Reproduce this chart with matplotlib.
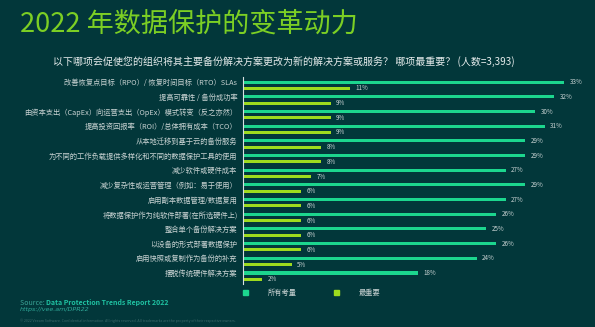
import matplotlib
matplotlib.use("Agg")
import matplotlib.pyplot as plt
import numpy as np
from matplotlib.lines import Line2D

plt.rcParams['font.family'] = ['Noto Sans CJK SC', 'DejaVu Sans']

categories = [
    "改善恢复点目标（RPO）/ 恢复时间目标（RTO）SLAs",
    "提高可靠性 / 备份成功率",
    "由资本支出（CapEx）向运营支出（OpEx）模式转变（反之亦然）",
    "提高投资回报率（ROI）/总体拥有成本（TCO）",
    "从本地迁移到基于云的备份服务",
    "为不同的工作负载提供多样化和不同的数据保护工具的使用",
    "减少软件或硬件成本",
    "减少复杂性或运营管理（例如：易于使用）",
    "启用副本数据管理/数据复用",
    "将数据保护作为纯软件部署(在所选硬件上)",
    "整合单个备份解决方案",
    "以设备的形式部署数据保护",
    "启用快照或复制作为备份的补充",
    "摆脱传统硬件解决方案",
]
all_considerations = [33, 32, 30, 31, 29, 29, 27, 29, 27, 26, 25, 26, 24, 18]
most_important = [11, 9, 9, 9, 8, 8, 7, 6, 6, 6, 6, 6, 5, 2]
series_names = ["所有考量", "最重要"]

title = "2022 年数据保护的变革动力"
subtitle = "以下哪项会促使您的组织将其主要备份解决方案更改为新的解决方案或服务？ 哪项最重要？ (人数=3,393)"

BG = "#02373a"
GREEN = "#1cd68e"
LIME = "#9edb1e"
TITLE_C = "#7ccf24"
TXT = "#c9d3d3"

W, H = 595, 327
fig = plt.figure(figsize=(W / 100, H / 100), dpi=100, facecolor=BG)

# axes: left at x=243 px, top 77 px, bottom 284 px
left = 243 / W
right_px = 243 + 35 * 9.73
ax = fig.add_axes([left, (H - 284) / H, (right_px - 243) / W, (284 - 77) / H])
ax.set_facecolor(BG)

y = np.arange(len(categories))
off = 0.43
bh = 0.21
b1 = ax.barh(y, all_considerations, height=bh, color=GREEN, label=series_names[0])
b2 = ax.barh(y + off, most_important, height=bh, color=LIME, label=series_names[1])

for yy, v in zip(y, all_considerations):
    ax.annotate(f"{v}%", (v, yy), xytext=(4, 0), textcoords="offset points",
                va="center", ha="left", fontsize=4.5, color=TXT)
for yy, v in zip(y + off, most_important):
    ax.annotate(f"{v}%", (v, yy), xytext=(4, 0), textcoords="offset points",
                va="center", ha="left", fontsize=4.5, color=TXT)

ax.set_xlim(0, 35)
ax.set_ylim(13 + 0.75, -0.35)
ax.set_yticks(y)
ax.set_yticklabels(categories, fontsize=5.25, color=TXT)
ax.tick_params(axis="y", length=0, pad=4)
ax.set_xticks([])
for s in ["top", "right", "bottom"]:
    ax.spines[s].set_visible(False)
ax.spines["left"].set_color("#d8e0e0")
ax.spines["left"].set_linewidth(0.8)

# legend
handles = [Line2D([], [], marker="s", linestyle="none", markersize=3.6, color=GREEN),
           Line2D([], [], marker="s", linestyle="none", markersize=3.6, color=LIME)]
leg = fig.legend(handles, series_names, loc="center left",
                 bbox_to_anchor=(243 / W, 1 - 293 / H), ncol=2, frameon=False,
                 fontsize=5.2, handlelength=0.6, handletextpad=2.9, columnspacing=5.0,
                 borderpad=0, borderaxespad=0)
for t in leg.get_texts():
    t.set_color(TXT)

# title and subtitle
fig.text(20 / W, 1 - 24 / H, title, fontsize=19.5, color=TITLE_C, va="center", ha="left")
fig.text(53 / W, 1 - 62 / H, subtitle, fontsize=7.2, color="#e6ecec", va="center", ha="left")

# source
src1 = fig.text(20 / W, 1 - 303 / H, "Source: ", fontsize=5, color="#3aa596", va="center", ha="left")
fig.canvas.draw()
bb = src1.get_window_extent()
fig.text(bb.x1 / W, 1 - 303 / H, "Data Protection Trends Report 2022", fontsize=5,
         color="#1fc2a2", fontweight="bold", va="center", ha="left")
fig.text(20 / W, 1 - 309.5 / H, "https://vee.am/DPR22", fontsize=4.6, color="#2fa898",
         style="italic", va="center", ha="left", family="DejaVu Sans")
fig.text(20 / W, 1 - 321 / H,
         "© 2022 Veeam Software. Confidential information. All rights reserved. All trademarks are the property of their respective owners.",
         fontsize=2.6, color="#3c6a6a", va="center", ha="left")

fig.savefig("out.png", dpi=100, facecolor=BG)
